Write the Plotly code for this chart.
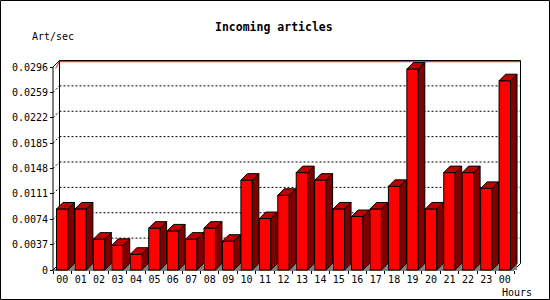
import plotly.graph_objects as go

# ---------------- data ----------------
hours = ["00", "01", "02", "03", "04", "05", "06", "07", "08", "09", "10", "11",
         "12", "13", "14", "15", "16", "17", "18", "19", "20", "21", "22", "23", "00"]
values = [0.0089, 0.0089, 0.0045, 0.0036, 0.0023, 0.0061, 0.0057, 0.0045, 0.0061,
          0.0042, 0.0131, 0.0075, 0.0109, 0.0142, 0.0131, 0.0089, 0.0078, 0.0089,
          0.0122, 0.0293, 0.0089, 0.0142, 0.0142, 0.0119, 0.0276]
y_ticks = [0, 0.0037, 0.0074, 0.0111, 0.0148, 0.0185, 0.0222, 0.0259, 0.0296]
y_tick_labels = ["0", "0.0037", "0.0074", "0.0111", "0.0148", "0.0185",
                 "0.0222", "0.0259", "0.0296"]
title_text = "Incoming articles"
y_title = "Art/sec"
x_title = "Hours"

# ---------------- geometry (pixels -> data) ----------------
W, H = 550, 300
N = len(values)
FRONT_L, FRONT_R = 53.0, 514.0      # front plane pixel extents
BASE_PX, TOP_PX = 270.0, 67.0       # y pixel of 0 and of top tick
CW = (FRONT_R - FRONT_L) / N
YTOP = y_ticks[-1]
VPX = YTOP / (BASE_PX - TOP_PX)
DEPTH = 6.5
DX = DEPTH / CW
DY = DEPTH * VPX
BAR_W = 0.62

def xd(px):
    return -0.5 + (px - FRONT_L) / CW

def yd(py):
    return (BASE_PX - py) * VPX

PA_L, PA_R, PA_T, PA_B = 44.0, 532.0, 52.0, 278.0  # plot area pixels

xs = list(range(N))
xb0 = -0.5 + DX
xb1 = N - 0.5 + DX

FONT = "DejaVu Sans Mono"

fig = go.Figure()

# shadows on floor
shx, shy = [], []
for i, v in zip(xs, values):
    x1 = i + BAR_W / 2
    shx += [x1, x1 + DX, x1 + DX, None]
    shy += [0, DY, 0, None]
fig.add_trace(go.Scatter(x=shx, y=shy, mode="lines", fill="toself",
                         fillcolor="#808080", line=dict(width=0),
                         hoverinfo="skip", showlegend=False))

# front faces
fig.add_trace(go.Bar(x=xs, y=values, width=BAR_W,
                     marker=dict(color="#ff0000", line=dict(color="black", width=1)),
                     showlegend=False, hoverinfo="skip"))

# side faces
sx, sy = [], []
for i, v in zip(xs, values):
    x1 = i + BAR_W / 2
    sx += [x1, x1 + DX, x1 + DX, x1, x1, None]
    sy += [0, DY, v + DY, v, 0, None]
fig.add_trace(go.Scatter(x=sx, y=sy, mode="lines", fill="toself",
                         fillcolor="#800000", line=dict(color="black", width=1),
                         hoverinfo="skip", showlegend=False))

# top faces
tx, ty = [], []
for i, v in zip(xs, values):
    x0 = i - BAR_W / 2
    x1 = i + BAR_W / 2
    tx += [x0, x0 + DX, x1 + DX, x1, x0, None]
    ty += [v, v + DY, v + DY, v, v, None]
fig.add_trace(go.Scatter(x=tx, y=ty, mode="lines", fill="toself",
                         fillcolor="#c00000", line=dict(color="black", width=1),
                         hoverinfo="skip", showlegend=False))

# invisible trace for boundary-tick axis
fig.add_trace(go.Scatter(x=[0], y=[0], xaxis="x2", mode="markers",
                         marker=dict(opacity=0), hoverinfo="skip", showlegend=False))

shapes = []
def line(x0, y0, x1, y1, color="black", dash=None, layer="below"):
    d = dict(type="line", xref="x", yref="y", x0=x0, y0=y0, x1=x1, y1=y1,
             line=dict(color=color, width=1), layer=layer)
    if dash:
        d["line"]["dash"] = dash
    shapes.append(d)

# grid lines on back wall and left wall
for t in y_ticks[1:-1]:
    line(xb0, t + DY, xb1, t + DY, dash="2px,2px")
    line(-0.5, t, xb0, t + DY, dash="2px,2px")

# back frame
line(xb0, DY, xb0, YTOP + DY)
line(xb0, YTOP + DY, xb1, YTOP + DY)
line(xb1, DY, xb1, YTOP + DY)
# front axis, baseline and diagonals
line(-0.5, 0, -0.5, YTOP)
line(-0.5, 0, N - 0.5, 0)
line(-0.5, YTOP, xb0, YTOP + DY)
line(-0.5, 0, xb0, DY)
line(N - 0.5, 0, xb1, DY)
# red top line
RED_OFF = 1.2 * VPX
line(-0.5 + 0.15, YTOP - RED_OFF, xb0, YTOP + DY - RED_OFF, color="#ff0000")
line(xb0, YTOP + DY - RED_OFF, xb1 - 0.03, YTOP + DY - RED_OFF, color="#ff0000")

# image border
shapes.append(dict(type="rect", xref="paper", yref="paper",
                   x0=0.5 / W, y0=0.5 / H, x1=1 - 0.5 / W, y1=1 - 0.5 / H,
                   line=dict(color="black", width=1), layer="above"))

xrange = [xd(PA_L), xd(PA_R)]
yrange = [yd(PA_B), yd(PA_T)]

fig.update_layout(
    width=W, height=H,
    margin=dict(l=0, r=0, t=0, b=0),
    paper_bgcolor="white", plot_bgcolor="rgba(0,0,0,0)",
    shapes=shapes,
    barmode="overlay",
    xaxis=dict(domain=[PA_L / W, PA_R / W], range=xrange, anchor="free",
               position=1 - BASE_PX / H,
               tickmode="array", tickvals=xs, ticktext=hours,
               ticks="", ticklabelstandoff=2,
               showgrid=False, zeroline=False, showline=False,
               tickfont=dict(family=FONT, size=10, color="black")),
    xaxis2=dict(overlaying="x", range=xrange, anchor="free",
                position=1 - BASE_PX / H,
                tickmode="array", tickvals=[i - 0.5 for i in range(N + 1)],
                ticks="outside", ticklen=3, tickcolor="black",
                showticklabels=False, showgrid=False, zeroline=False, showline=False),
    yaxis=dict(domain=[1 - PA_B / H, 1 - PA_T / H], range=yrange, anchor="free",
               position=FRONT_L / W,
               tickmode="array", tickvals=y_ticks, ticktext=y_tick_labels,
               ticks="outside", ticklen=3, tickcolor="black",
               showgrid=False, zeroline=False, showline=False,
               tickfont=dict(family=FONT, size=10, color="black")),
    annotations=[
        dict(text="<b>" + title_text + "</b>", xref="paper", yref="paper",
             x=274 / W, y=1 - 27 / H, xanchor="center", yanchor="middle",
             showarrow=False, font=dict(family=FONT, size=11.5, color="black")),
        dict(text=y_title, xref="paper", yref="paper",
             x=30 / W, y=1 - 37 / H, xanchor="left", yanchor="middle",
             showarrow=False, font=dict(family=FONT, size=10, color="black")),
        dict(text=x_title, xref="paper", yref="paper",
             x=534 / W, y=1 - 292 / H, xanchor="right", yanchor="middle",
             showarrow=False, font=dict(family=FONT, size=10, color="black")),
    ],
)

fig.write_html("out.html")
